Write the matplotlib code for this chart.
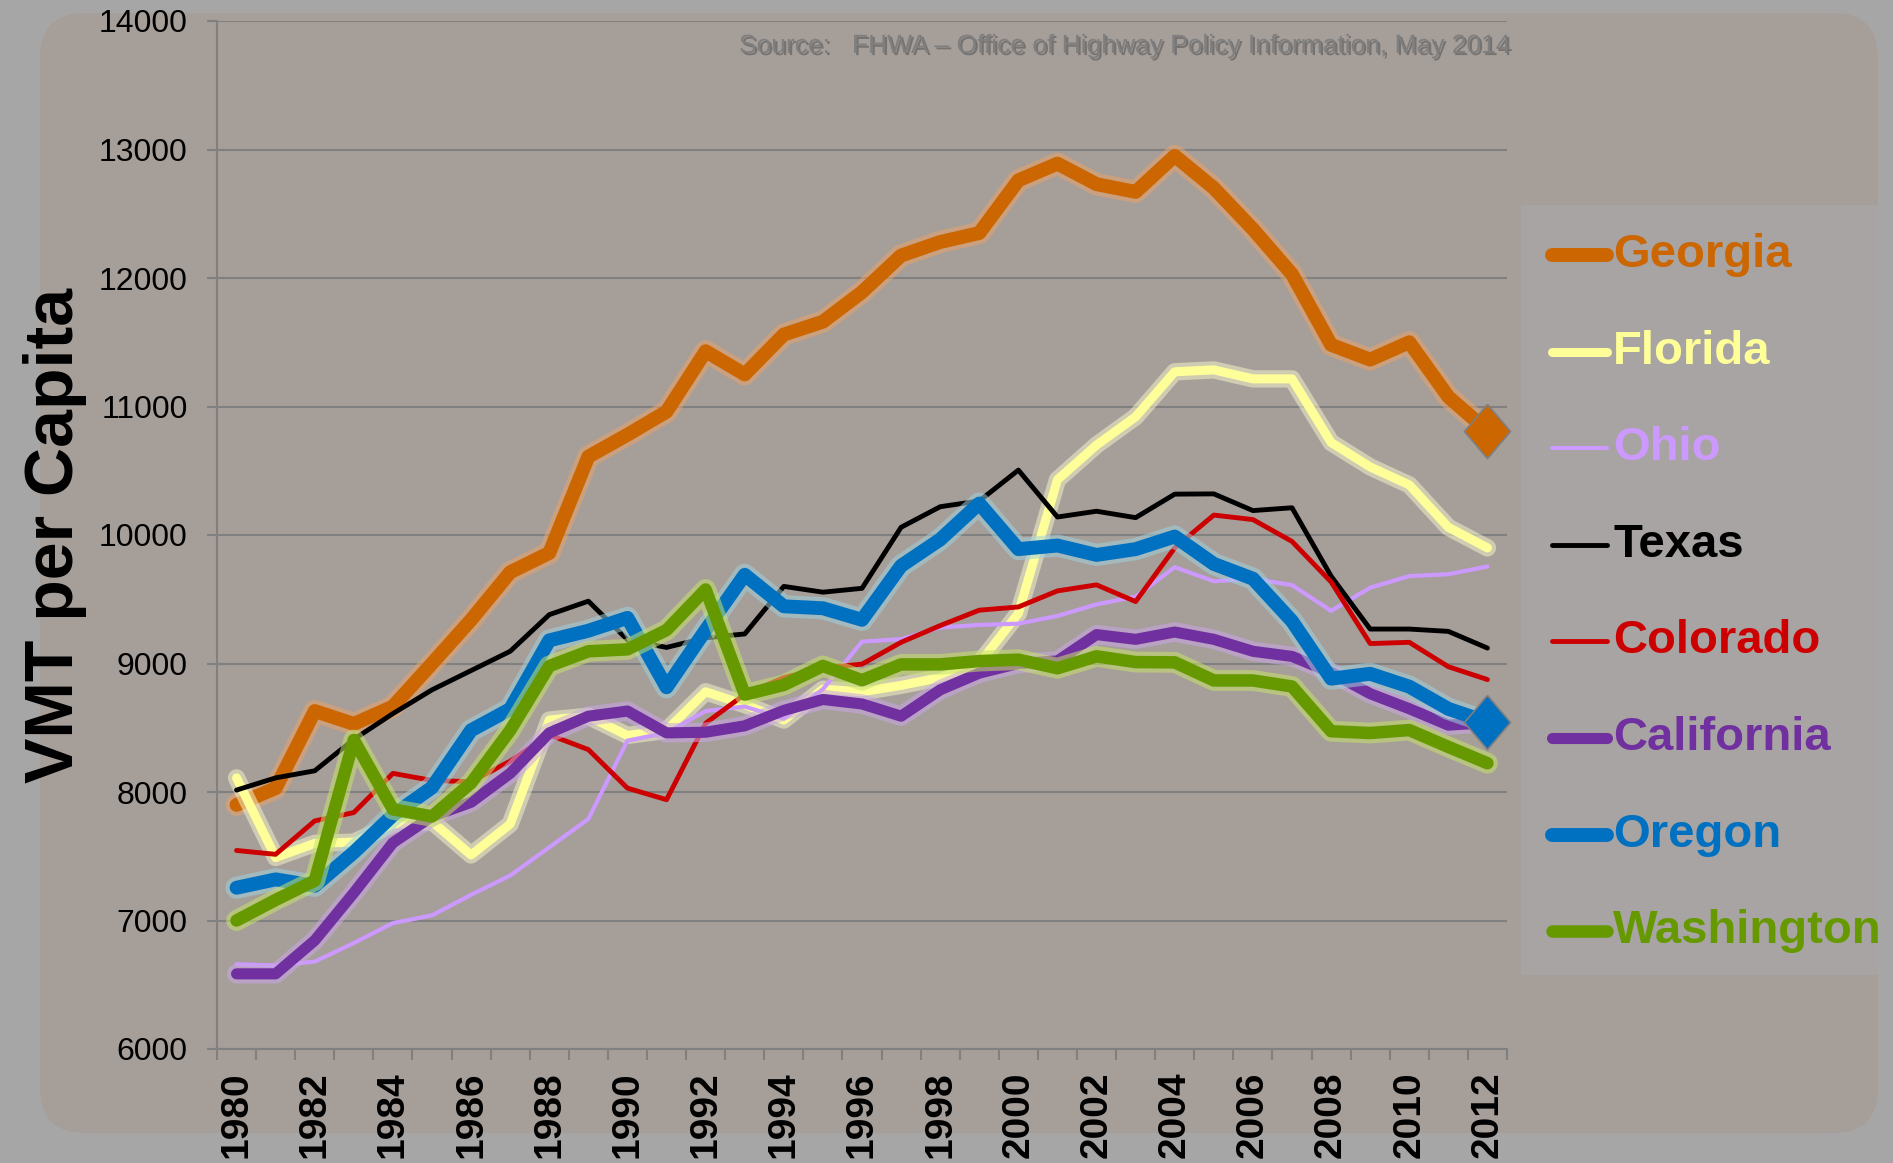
import matplotlib
matplotlib.use("Agg")
import matplotlib.pyplot as plt
import matplotlib.patheffects as pe
import numpy as np
from matplotlib.patches import FancyBboxPatch, Rectangle
from matplotlib.lines import Line2D

YEARS = list(range(1980, 2013))

GEORGIA = [7900, 8030, 8630, 8530, 8665, 9000, 9340, 9710, 9860, 10610, 10780, 10960,
           11430, 11250, 11560, 11660, 11890, 12175, 12280, 12350, 12760, 12890, 12730,
           12670, 12950, 12700, 12380, 12030, 11480, 11365, 11500, 11075, 10810]
FLORIDA = [8110, 7490, 7600, 7610, 7750, 7770, 7510, 7750, 8560, 8590, 8440, 8480,
           8780, 8680, 8560, 8800, 8780, 8830, 8890, 9000, 9390, 10430, 10700,
           10920, 11270, 11285, 11215, 11215, 10720, 10530, 10390, 10060, 9900]
OHIO = [6660, 6650, 6680, 6825, 6980, 7040, 7200, 7350, 7570, 7790, 8400, 8460,
        8630, 8665, 8570, 8800, 9170, 9190, 9280, 9300, 9310, 9370, 9460,
        9520, 9750, 9640, 9660, 9610, 9410, 9590, 9680, 9695, 9755]
TEXAS = [8015, 8110, 8165, 8410, 8610, 8795, 8945, 9095, 9380, 9485, 9185, 9125,
         9200, 9230, 9600, 9555, 9585, 10060, 10220, 10265, 10505, 10140, 10185,
         10135, 10318, 10320, 10190, 10212, 9680, 9268, 9268, 9250, 9120]
COLORADO = [7545, 7515, 7775, 7840, 8145, 8090, 8080, 8240, 8445, 8330, 8030, 7940,
            8535, 8760, 8890, 8965, 8995, 9165, 9295, 9415, 9440, 9565, 9612,
            9482, 9900, 10155, 10120, 9950, 9635, 9155, 9165, 8975, 8875]
CALIFORNIA = [6585, 6585, 6845, 7215, 7605, 7810, 7920, 8145, 8460, 8590, 8630, 8460,
              8465, 8515, 8635, 8720, 8685, 8590, 8795, 8925, 9000, 9020, 9225,
              9188, 9245, 9188, 9095, 9055, 8930, 8765, 8648, 8520, 8540]
OREGON = [7255, 7320, 7270, 7530, 7820, 8035, 8480, 8645, 9180, 9255, 9355, 8815,
          9260, 9690, 9445, 9430, 9340, 9760, 9965, 10245, 9890, 9918, 9845,
          9890, 9988, 9775, 9660, 9330, 8882, 8920, 8820, 8647, 8544]
WASHINGTON = [7000, 7160, 7310, 8405, 7865, 7810, 8070, 8480, 8980, 9095, 9110, 9260,
              9576, 8758, 8833, 8981, 8870, 8993, 8993, 9019, 9030, 8963, 9056,
              9011, 9009, 8868, 8868, 8821, 8473, 8459, 8482, 8351, 8224]

STATES = ["Georgia", "Florida", "Ohio", "Texas", "Colorado", "California", "Oregon", "Washington"]
VALUES = [GEORGIA, FLORIDA, OHIO, TEXAS, COLORADO, CALIFORNIA, OREGON, WASHINGTON]

# style per state: line colour, line width (pt), glow colour (None = no glow)
STYLE = {
    "Georgia": ("#CC6600", 10, "#E8A36A"),
    "Florida": ("#FFFF99", 6.5, "#F2F2C8"),
    "Ohio": ("#CC99FF", 3, None),
    "Texas": ("#000000", 3.5, None),
    "Colorado": ("#CC0000", 3.5, None),
    "California": ("#7030A0", 8, "#C9A6E6"),
    "Oregon": ("#0070C0", 10, "#9FD0DD"),
    "Washington": ("#669900", 9, "#C6E26A"),
}
DIAMOND_STATES = ["Georgia", "Oregon"]

W, H = 1893, 1163
FONT = "Liberation Sans"

fig = plt.figure(figsize=(W / 100, H / 100), dpi=100)
fig.patch.set_facecolor("#A6A6A6")

# background layer in pixel coordinates
bg = fig.add_axes([0, 0, 1, 1], zorder=-1)
bg.set_xlim(0, W)
bg.set_ylim(H, 0)
bg.axis("off")
bg.add_patch(FancyBboxPatch((40, 13), 1838, 1120, boxstyle="round,pad=0,rounding_size=45",
                            facecolor="#A69E99", edgecolor="none"))
bg.add_patch(Rectangle((1521, 205), 357, 770, facecolor="#A8A4A3", edgecolor="none"))

ax = fig.add_axes([217 / W, 1 - 1049 / H, 1290 / W, 1028 / H], zorder=1)
ax.patch.set_visible(False)

for name, vals in zip(STATES, VALUES):
    color, lw, glow = STYLE[name]
    effects = None
    if glow:
        effects = [pe.Stroke(linewidth=lw + 6, foreground=glow, alpha=0.55), pe.Normal()]
    ax.plot(YEARS, vals, color=color, linewidth=lw, solid_capstyle="round",
            solid_joinstyle="round", path_effects=effects, zorder=3)

diamond = [(0, 1), (0.85, 0), (0, -1), (-0.85, 0), (0, 1)]
for name in DIAMOND_STATES:
    vals = VALUES[STATES.index(name)]
    ax.plot(YEARS[-1], vals[-1], marker=diamond, markersize=39, color=STYLE[name][0],
            markeredgecolor="#7F7F7F", markeredgewidth=1.2, zorder=5, clip_on=False)

ax.set_xlim(1979.5, 2012.5)
ax.set_ylim(6000, 14000)
ax.set_yticks(np.arange(6000, 14001, 1000))
ax.set_xticks(YEARS[::2])
ax.set_xticks(np.arange(1979.5, 2013, 1), minor=True)
ax.grid(axis="y", color="#808080", linewidth=1.5, zorder=0)

for side in ["top", "right"]:
    ax.spines[side].set_visible(False)
for side in ["left", "bottom"]:
    ax.spines[side].set_color("#808080")
    ax.spines[side].set_linewidth(1.5)

ax.tick_params(axis="y", length=7, width=1.5, color="#808080", pad=14, labelsize=23)
ax.tick_params(axis="x", which="major", length=0, pad=16, labelsize=28, labelrotation=90)
ax.tick_params(axis="x", which="minor", length=8, width=1.5, color="#808080")
for lab in ax.get_yticklabels():
    lab.set_fontfamily(FONT)
for lab in ax.get_xticklabels():
    lab.set_fontfamily(FONT)
    lab.set_fontweight("bold")

ax.set_ylabel("VMT per Capita", fontsize=49, fontweight="bold", family=FONT)
ax.yaxis.set_label_coords(-0.101, 0.5)

ax.text(739, 46, "Source:   FHWA \u2013 Office of Highway Policy Information, May 2014",
        transform=bg.transData, fontsize=19, color="#7F7F7F", family=FONT, va="center",
        path_effects=[pe.SimplePatchShadow(offset=(1.5, -1.5), shadow_rgbFace="#555555", alpha=0.6),
                      pe.Normal()])

# legend
for i, name in enumerate(STATES):
    color, lw, _ = STYLE[name]
    y = 255 + i * 96.6
    bg.add_line(Line2D([1552, 1607], [y, y], color=color, linewidth=max(lw, 3),
                       solid_capstyle="round"))
    bg.text(1613, y, name, color=color, fontsize=34, fontweight="bold", family=FONT,
            va="center", ha="left")

fig.savefig("out.png", dpi=100, facecolor=fig.get_facecolor())
